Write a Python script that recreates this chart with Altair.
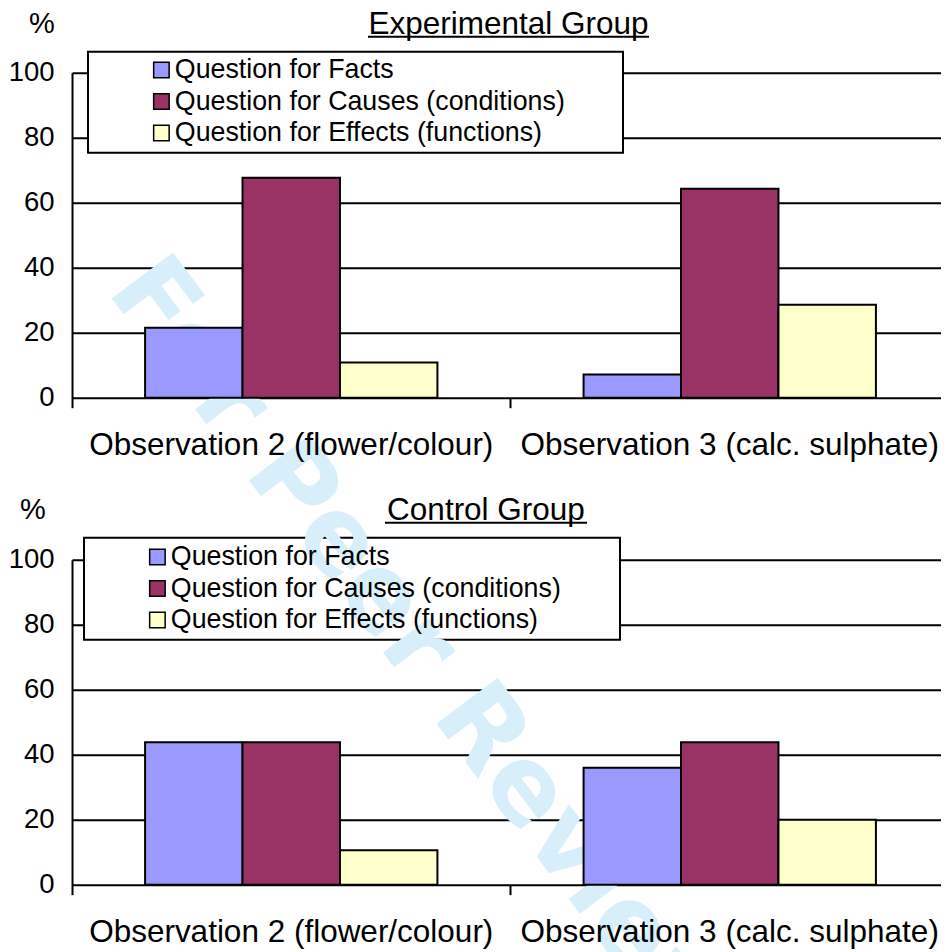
import altair as alt
import pandas as pd

observations = ["Observation 2 (flower/colour)", "Observation 3 (calc. sulphate)"]
series = ["Question for Facts", "Question for Causes (conditions)", "Question for Effects (functions)"]
colors = ["#9999FF", "#993366", "#FFFFCC"]

exp_facts = [21.5, 7.1]
exp_causes = [67.7, 64.3]
exp_effects = [10.8, 28.6]

ctl_facts = [43.8, 36.0]
ctl_causes = [43.8, 43.8]
ctl_effects = [10.6, 20.0]

y_ticks = [0, 20, 40, 60, 80, 100]
panel_titles = ["Experimental Group", "Control Group"]
watermark = ["For P", "eer Review"]

FONT = "Liberation Sans"


def long_table(facts, causes, effects):
    rows = []
    for i, obs in enumerate(observations):
        for s, vals in zip(series, [facts, causes, effects]):
            rows.append({"obs": obs, "series": s, "value": vals[i]})
    return pd.DataFrame(rows)


one = pd.DataFrame({"k": [0]})


def panel(df, title, title_pos, underline, pct_pos, legend_x, box, wm_text, wm_pos, label_pad):
    box_layer = alt.Chart(one).mark_rect(fill="white", stroke="black", strokeWidth=2).encode(
        x=alt.value(box[0]), x2=alt.value(box[1]), y=alt.value(box[2]), y2=alt.value(box[3])
    )
    wm_layer = alt.Chart(one).mark_text(
        text=wm_text, angle=53, align="left", baseline="alphabetic", fontSize=105,
        font="DejaVu Sans", fontWeight="bold", color="#D6EFFB"
    ).encode(x=alt.value(wm_pos[0]), y=alt.value(wm_pos[1]))
    title_layer = alt.Chart(one).mark_text(
        text=title, fontSize=31.5, font=FONT, color="black", align="center",
        baseline="top"
    ).encode(x=alt.value(title_pos[0]), y=alt.value(title_pos[1]))
    ul_layer = alt.Chart(one).mark_rule(color="black", strokeWidth=2).encode(
        x=alt.value(underline[0]), x2=alt.value(underline[1]), y=alt.value(underline[2])
    )
    bars = alt.Chart(df).mark_bar(stroke="black", strokeWidth=2).encode(
        x=alt.X("obs:N", sort=observations,
                scale=alt.Scale(paddingInner=0, paddingOuter=0),
                axis=alt.Axis(title=None, domain=False, ticks=True, tickColor="black",
                              tickWidth=2, tickSize=10, bandPosition=0, labelAngle=0,
                              labelFontSize=31.5, labelFont=FONT, labelColor="black",
                              labelPadding=label_pad, labelBaseline="alphabetic",
                              labelLimit=800, grid=False, zindex=1)),
        xOffset=alt.XOffset("series:N", sort=series,
                            scale=alt.Scale(paddingOuter=0.75, paddingInner=0)),
        y=alt.Y("value:Q", scale=alt.Scale(domain=[0, 100], nice=False),
                axis=alt.Axis(values=y_ticks, grid=True, gridColor="black", gridWidth=2,
                              gridOpacity=1, domainColor="black", domainWidth=2, ticks=False,
                              labelFontSize=27.5, labelFont=FONT, labelColor="black",
                              labelPadding=18, title="%", titleAngle=0, titleX=pct_pos[0],
                              titleY=pct_pos[1], titleFontSize=29, titleFont=FONT,
                              titleFontWeight="normal", titleColor="black",
                              titleAlign="center", titleBaseline="top")),
        color=alt.Color("series:N", sort=series,
                        scale=alt.Scale(domain=series, range=colors),
                        legend=alt.Legend(title=None, orient="none", legendX=legend_x,
                                          legendY=-16, symbolType="square", symbolSize=240,
                                          symbolStrokeColor="black", symbolStrokeWidth=1.5,
                                          labelFontSize=26.8, labelFont=FONT,
                                          labelColor="black", labelLimit=800,
                                          labelOffset=0, rowPadding=3.5, padding=0)),
    )
    return alt.layer(box_layer, wm_layer, title_layer, ul_layer, bars).properties(
        width=877, height=325
    )


top = panel(long_table(exp_facts, exp_causes, exp_effects), panel_titles[0], (436.5, -63.3),
            (296, 577, -36), (-30.5, -63), 76, (16, 551, -21, 80), watermark[0], (34, 218),
            label_pad=47)
bottom = panel(long_table(ctl_facts, ctl_causes, ctl_effects), panel_titles[1], (414, -64.3),
               (313, 515, -37), (-39.5, -64), 72, (12, 548, -22, 80), watermark[1],
               (220, -28), label_pad=47)

chart = alt.vconcat(top, bottom, spacing=162, bounds="flush").resolve_scale(
    color="independent").resolve_legend(color="independent").properties(
    padding={"left": 0, "top": 0.7, "right": -8, "bottom": 0}, background="white"
).configure_view(stroke=None)

chart.save("out.html", embed_options={"renderer": "svg", "actions": False})
